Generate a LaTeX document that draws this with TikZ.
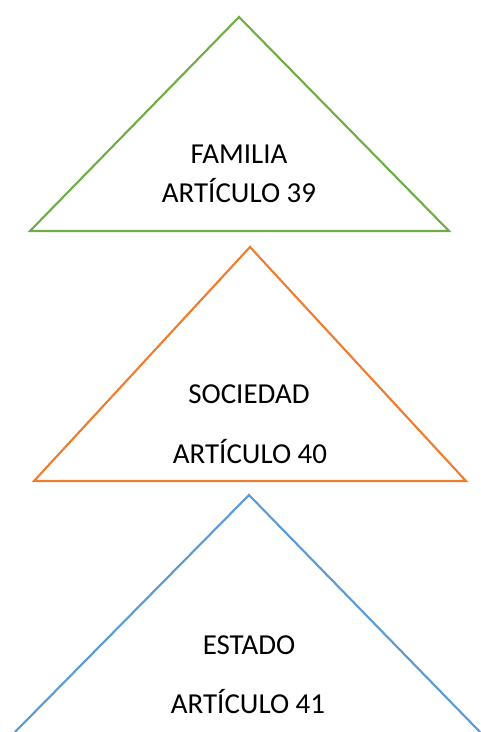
\documentclass[tikz,border=0pt]{standalone}
\usepackage{fontspec}
\setmainfont{Carlito}
\definecolor{famgreen}{HTML}{70AD47}
\definecolor{socorange}{HTML}{ED7D31}
\definecolor{estblue}{HTML}{5B9BD5}
\tikzstyle{tri} = [line width=1.6pt, line join=miter]
\tikzstyle{lbl} = [anchor=base, inner sep=0pt, font=\fontsize{21.7}{26}\selectfont]

\begin{document}
\begin{tikzpicture}[x=0.75pt, y=-0.75pt]

    \useasboundingbox (0,0) rectangle (481,732);

    \draw [tri, famgreen] (239,17) -- (449,231) -- (30,231) -- cycle;
    \draw [tri, socorange] (250,247) -- (466,481) -- (34,481) -- cycle;
    \draw [tri, estblue] (15,732) -- (249,495) -- (480,732);

\node[lbl] (familia) at (239,163) {FAMILIA};
\node[lbl] (art39) at (239,202) {ARTÍCULO 39};
\node[lbl] (sociedad) at (249,403) {SOCIEDAD};
\node[lbl] (art40) at (250,463) {ARTÍCULO 40};
\node[lbl] (estado) at (249,654) {ESTADO};
\node[lbl] (art41) at (248,713) {ARTÍCULO 41};

\end{tikzpicture}
\end{document}
